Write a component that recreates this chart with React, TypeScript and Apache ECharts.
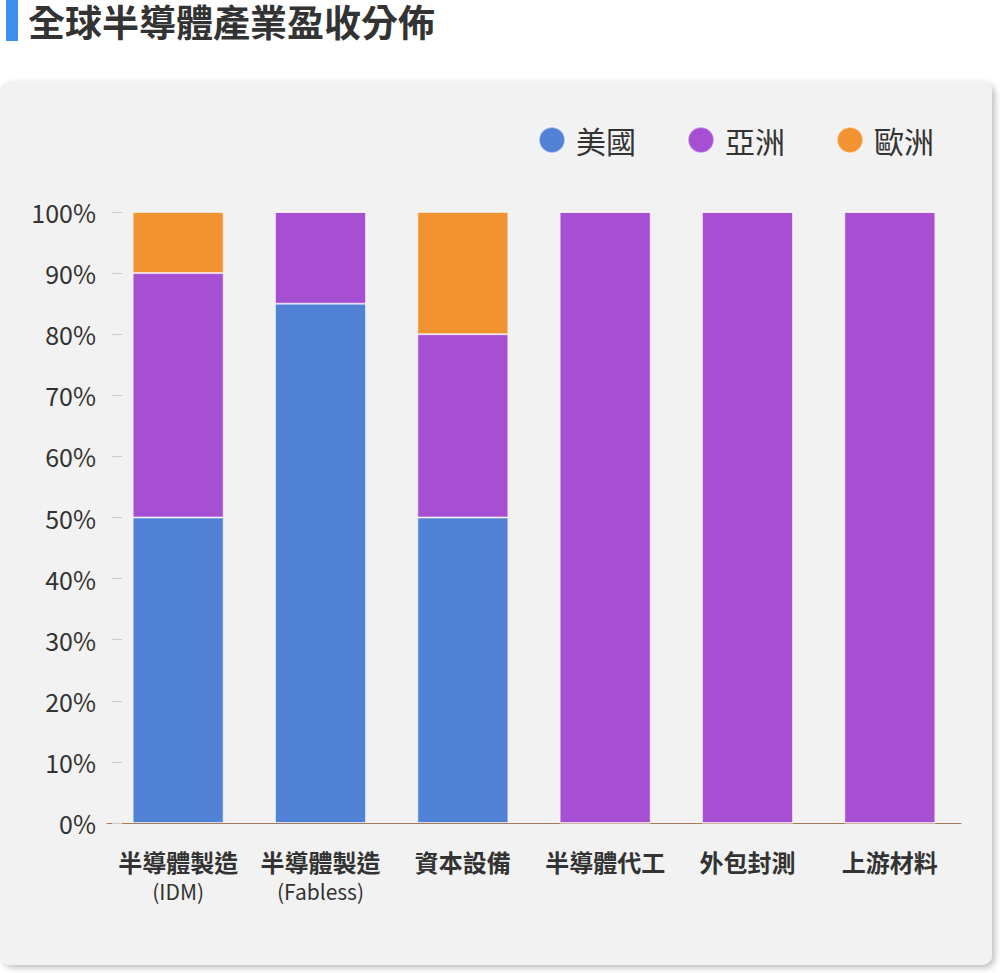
import React, { useEffect, useRef } from "react";
import * as echarts from "echarts";

const TITLE = "全球半導體產業盈收分佈";
const categories = [
  ["半導體製造", "(IDM)"],
  ["半導體製造", "(Fabless)"],
  ["資本設備", ""],
  ["半導體代工", ""],
  ["外包封測", ""],
  ["上游材料", ""],
];
const seriesNames = ["美國", "亞洲", "歐洲"];
const usValues = [50, 85, 50, 0, 0, 0];
const asiaValues = [40, 15, 30, 100, 100, 100];
const europeValues = [10, 0, 20, 0, 0, 0];
const colors = ["#5182d6", "#a64fd3", "#f29332"];

export default function App() {
  const ref = useRef<HTMLDivElement>(null);
  useEffect(() => {
    if (!ref.current) return;
    const chart = echarts.init(ref.current, null, { renderer: "svg" });
    const font = "'Noto Sans CJK TC', 'Noto Sans', sans-serif";
    const values = [usValues, asiaValues, europeValues];
    chart.setOption({
      animation: false,
      textStyle: { fontFamily: font },
      title: {
        text: TITLE,
        left: 28,
        top: 1,
        padding: 0,
        textStyle: { fontSize: 37, lineHeight: 40, fontWeight: "bold", color: "#333", fontFamily: font },
      },
      graphic: [
        { type: "rect", shape: { x: 6, y: 0, width: 12, height: 41 }, style: { fill: "#3d8ff0" }, z: 10 },
        {
          type: "rect",
          z: -10,
          shape: { x: 0, y: 81, width: 992, height: 884, r: 10 },
          style: {
            fill: "#f2f2f2",
            shadowBlur: 6,
            shadowColor: "rgba(0,0,0,0.25)",
            shadowOffsetX: 3,
            shadowOffsetY: 3,
          },
        },
      ],
      legend: {
        data: seriesNames,
        right: 61,
        top: 120,
        icon: "circle",
        itemWidth: 26,
        itemHeight: 26,
        itemGap: 51,
        textStyle: { fontSize: 30, color: "#333", fontFamily: font, padding: [0, 0, 0, 6] },
      },
      grid: { left: 107, right: 39, top: 212, bottom: 150 },
      xAxis: {
        type: "category",
        data: categories.map((c) => c.join("\n")),
        axisLine: { lineStyle: { color: "#a47a5a", width: 1 } },
        axisTick: { show: false },
        axisLabel: {
          interval: 0,
          margin: 24,
          formatter: (v: string) => {
            const [a, b] = v.split("\n");
            return b ? `{a|${a}}\n{b|${b}}` : `{a|${a}}`;
          },
          rich: {
            a: { fontSize: 24, fontWeight: "bold", color: "#333", lineHeight: 29, fontFamily: font },
            b: { fontSize: 21, color: "#333", lineHeight: 29, fontFamily: font },
          },
        },
      },
      yAxis: {
        type: "value",
        min: 0,
        max: 100,
        interval: 10,
        offset: -15,
        axisLine: { show: false },
        axisTick: { show: true, length: 10, lineStyle: { color: "#cccccc" } },
        splitLine: { show: false },
        axisLabel: { fontSize: 25, color: "#333", margin: 26, formatter: "{value}%" },
      },
      series: seriesNames.map((name, i) => ({
        name,
        type: "bar",
        stack: "total",
        barWidth: 91,
        data: values[i],
        itemStyle: { color: colors[i], borderColor: "rgba(255,255,255,0.5)", borderWidth: 1 },
      })),
    });
    return () => chart.dispose();
  }, []);
  return (
    <div
      ref={ref}
      style={{ position: "fixed", left: 0, top: 0, width: 1000, height: 973, background: "#fff" }}
    />
  );
}
